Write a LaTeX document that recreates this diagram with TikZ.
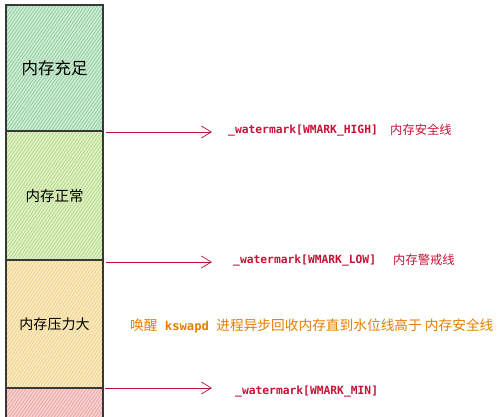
\documentclass[tikz,border=0pt]{standalone}
\usepackage{fontspec}
\usepackage[svgnames]{xcolor}
\setmonofont{DejaVu Sans Mono}
\newfontfamily\cjk{Noto Sans CJK SC}
\usetikzlibrary{positioning,arrows.meta,patterns.meta}
\definecolor{ampleFill}{HTML}{CDEBD3}
\definecolor{ampleHatch}{HTML}{84C794}
\definecolor{normalFill}{HTML}{DFF0C2}
\definecolor{normalHatch}{HTML}{AAD47E}
\definecolor{pressureFill}{HTML}{FAEBC2}
\definecolor{pressureHatch}{HTML}{ECC878}
\definecolor{lowFill}{HTML}{F8D0D0}
\definecolor{lowHatch}{HTML}{E49A9A}
\colorlet{markLine}{Crimson!85!black}
\colorlet{markText}{Crimson!90!black}
\colorlet{wakeText}{DarkOrange!90!black}

\begin{document}
\begin{tikzpicture}[
  x=1pt, y=-1pt,
  node distance=0pt,
  level box/.style={
    draw=black!78, line width=1.6pt, outer sep=0pt,
    minimum width=97pt, inner sep=0pt,
    font=\cjk\fontsize{14.5}{15}\selectfont
  },
  hatched/.style 2 args={
    preaction={fill=#1},
    preaction={pattern={Lines[angle=55,distance=2.6pt,line width=0.55pt]},pattern color=#2}
  },
  mark arrow/.style={
    draw=markLine, line width=0.7pt,
    -{Straight Barb[length=10pt,width=12pt,line width=0.7pt]}
  },
  mark label/.style={
    text=markText, anchor=west, inner sep=0pt,
    font=\ttfamily\bfseries\fontsize{11.3}{12}\selectfont
  },
  mark note/.style={
    text=markText, anchor=west, inner sep=0pt,
    font=\cjk\fontsize{12.3}{13}\selectfont
  }
]
\useasboundingbox (0,0) rectangle (500,417);
% memory levels
\node[level box,hatched={ampleFill}{ampleHatch},minimum height=126pt,anchor=north west,
  font=\cjk\fontsize{16.5}{17}\selectfont] (ample) at (6,5) {\raisebox{-2pt}{内存充足}};
\node[level box,hatched={normalFill}{normalHatch},minimum height=129pt,below=of ample] (normal) {\raisebox{-1.5pt}{内存正常}};
\node[level box,hatched={pressureFill}{pressureHatch},minimum height=128pt,below=of normal,
  font=\cjk\fontsize{14}{14}\selectfont] (pressure) {\raisebox{-10pt}{内存压力大}};
\node[level box,hatched={lowFill}{lowHatch},minimum height=40pt,below=of pressure] (low) {};
% watermarks
\node[mark label] (high) at (228,131) {\_watermark[WMARK\_HIGH]};
\node[mark note] (highnote) at (390,130) {内存安全线};
\node[mark label] (lowmark) at (233,261) {\_watermark[WMARK\_LOW]};
\node[mark note] (lownote) at (393,260) {内存警戒线};
\node[mark label] (min) at (235,392) {\_watermark[WMARK\_MIN]};
\coordinate (highend) at (212,132);
\coordinate (lowend) at (212,262);
\coordinate (minend) at (212,388);
\draw[mark arrow] ([xshift=3pt,yshift=-1pt]ample.south east) -- (highend);
\draw[mark arrow] ([xshift=3pt,yshift=-2pt]normal.south east) -- (lowend);
\draw[mark arrow] ([xshift=2pt]pressure.south east) -- (minend);
% kswapd
\node[anchor=west,inner sep=0pt,text=wakeText,font=\cjk\fontsize{13.7}{14}\selectfont] (wake) at (130,326)
  {唤醒{\ttfamily\bfseries\fontsize{12.2}{14}\selectfont\ kswapd\ }进程异步回收内存直到水位线高于 内存安全线};
\end{tikzpicture}
\end{document}
